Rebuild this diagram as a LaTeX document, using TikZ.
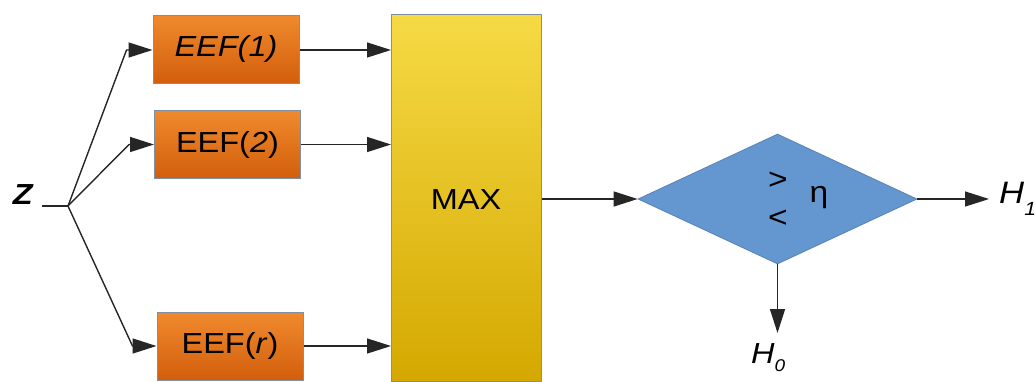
\documentclass[tikz,border=0pt]{standalone}
\usepackage{fontspec}
\setmainfont{Liberation Sans}
\usetikzlibrary{arrows.meta,shapes.geometric}
\definecolor{orgA}{HTML}{F08A2E}
\definecolor{orgB}{HTML}{D35E0C}
\definecolor{yelA}{HTML}{F6DA45}
\definecolor{yelB}{HTML}{D4A800}
\definecolor{bluF}{HTML}{6496CF}
\definecolor{bluD}{HTML}{5A82B4}
\definecolor{edgeC}{HTML}{7F8FA6}
\newcommand{\wdn}[1]{\scalebox{1.12}[1]{#1}}
\tikzset{
  eefbox/.style={draw=edgeC, line width=1pt, top color=orgA, bottom color=orgB,
    minimum width=146pt, minimum height=68pt, inner sep=0pt,
    font=\fontsize{29}{29}\selectfont},
  maxbox/.style={draw=edgeC, line width=1pt, top color=yelA, bottom color=yelB,
    minimum width=150pt, minimum height=367pt, inner sep=0pt},
  arr/.style={line width=1.4pt, draw=black!85, -{Triangle[length=24pt,width=15pt]}},
  ln/.style={line width=1.4pt, draw=black!85},
  lab/.style={inner sep=1pt, font=\fontsize{30}{30}\selectfont}
}
\begin{document}
\begin{tikzpicture}[x=1pt,y=-1pt]
\useasboundingbox (0,0) rectangle (1035,381);
% boxes
\node[eefbox] (e1) at (226,49) {\wdn{\itshape EEF(1)}};
\node[eefbox] (e2) at (227.5,144.5) {\wdn{EEF(\textit{2})}};
\node[eefbox] (er) at (230,346) {\wdn{EEF(\textit{r})}};
\node[maxbox, anchor=north west] (mx) at (391,14) {};
\node[font=\fontsize{29}{29}\selectfont] (mt) at (466,200) {\wdn{MAX}};
% diamond
\node[diamond, draw=bluD, line width=0.8pt, fill=bluF, minimum width=279pt,
      minimum height=130pt, inner sep=0pt] (d) at (777.5,199) {};
\node[lab] (gt) at (778,181) {\wdn{>}};
\node[lab] (lt) at (778,219) {\wdn{<}};
\node[lab] (eta) at (819,198) {\wdn{η}};
% labels
\node[lab, anchor=east, font=\fontsize{29}{29}\selectfont\bfseries\itshape] (z) at (34,195) {\wdn{Z}};
\node[lab, anchor=west, font=\fontsize{31}{31}\selectfont\itshape] (h1) at (998,199)
  {\wdn{H\raisebox{-0.4em}{\fontsize{19}{19}\selectfont 1}}};
\node[lab, anchor=north west, font=\fontsize{29}{29}\selectfont\itshape] (h0) at (750,342)
  {\wdn{H\raisebox{-0.3em}{\fontsize{17}{17}\selectfont 0}}};
% connectors
\coordinate (zs) at (42,206);
\coordinate (br) at (68,206);
\draw[ln] (zs) -- (br);
\draw[arr] (br) -- ([xshift=-26pt,yshift=-1pt]e1.west) -- ([yshift=-1pt]e1.west);
\draw[arr] (br) -- ([xshift=-25pt]e2.west) -- (e2.west);
\draw[arr] (br) -- ([xshift=-24pt]er.west) -- (er.west);
\draw[arr] ([yshift=-1pt]e1.east) -- ([yshift=-1pt]e1.east -| mx.west);
\draw[arr] (e2.east) -- (e2.east -| mx.west);
\draw[arr] (er.east) -- (er.east -| mx.west);
\draw[arr] (mx.east |- d.west) -- (d.west);
\draw[arr, shorten >=9pt] (d.east) -- (h1.west |- d.east);
\draw[arr, shorten >=9pt] (d.south) -- (h0.north -| d.south);
\end{tikzpicture}
\end{document}
